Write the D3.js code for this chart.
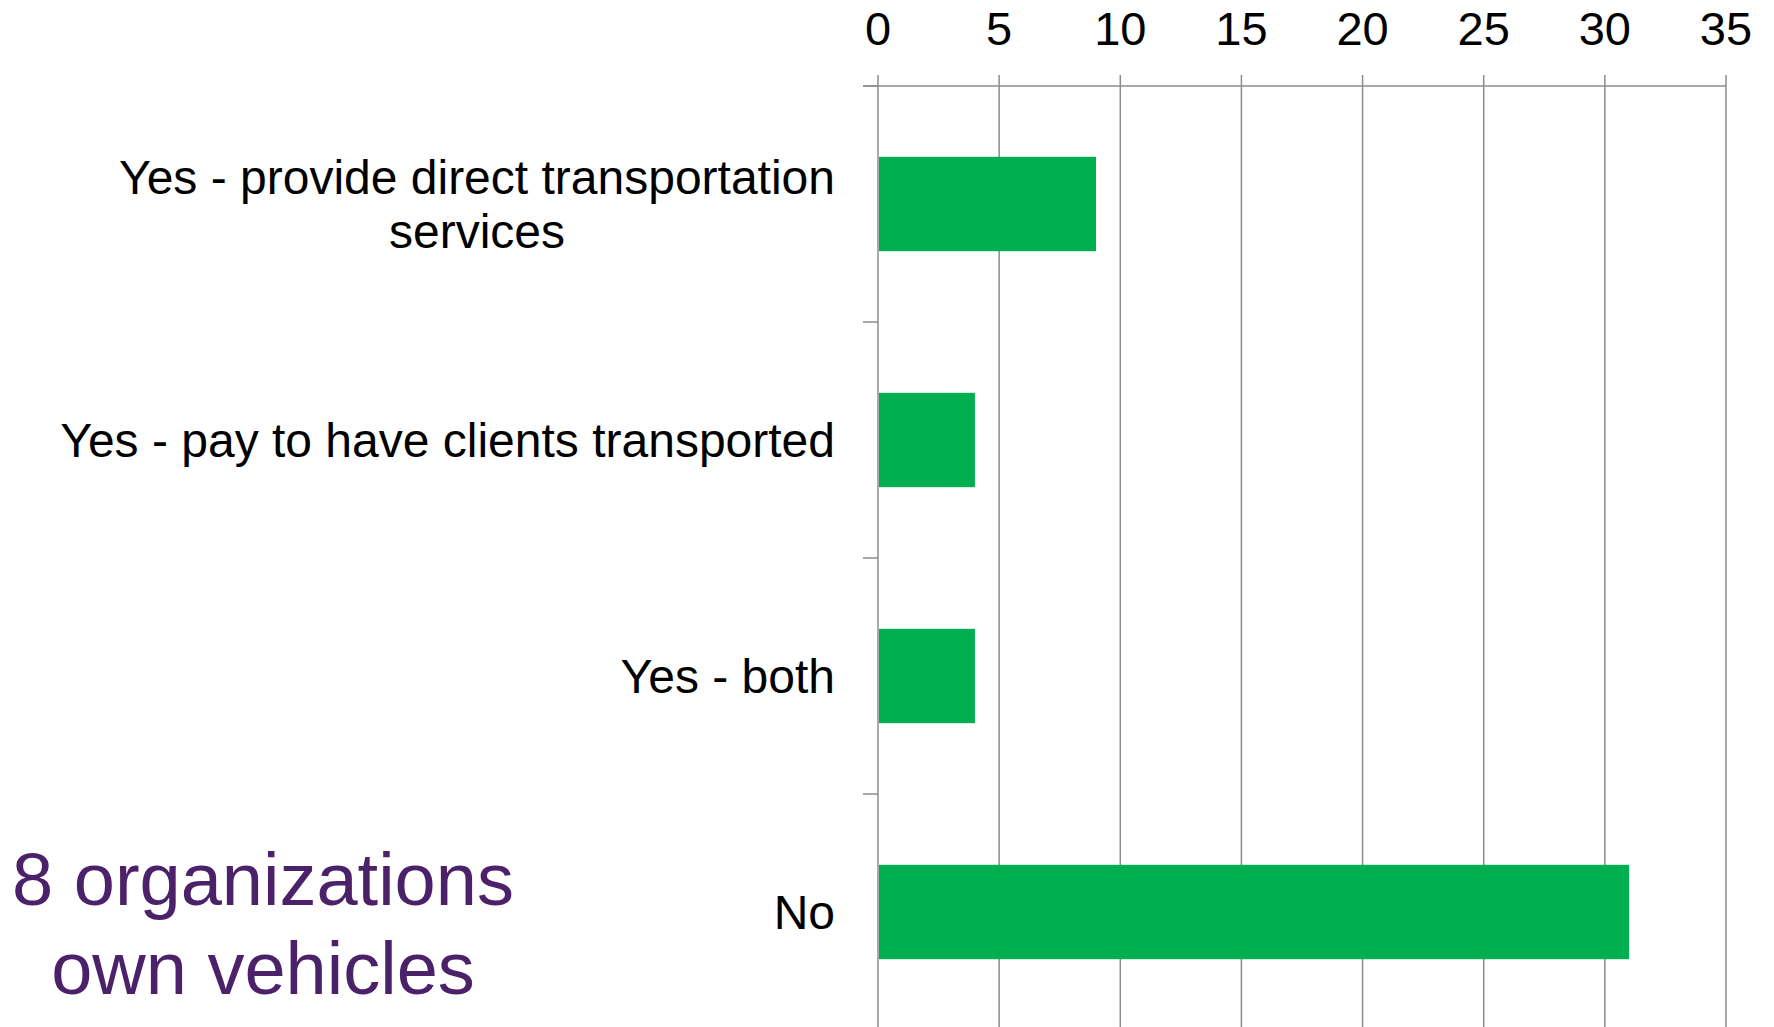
<!DOCTYPE html>
<html>
<head>
<meta charset="utf-8">
<script src="https://cdn.jsdelivr.net/npm/d3@7"></script>
<style>
    body { margin: 0; background: #fff; }
    svg { display: block; font-family: "Liberation Sans", Arial, sans-serif; }
</style>
</head>
<body>
<svg></svg>
<script>
'use strict';

// categories (lines of each label split by "|") and counts
var categories = [
    "Yes - provide direct transportation|services",
    "Yes - pay to have clients transported",
    "Yes - both",
    "No"
];
var counts = [9, 4, 4, 31];
var xTicks = [0, 5, 10, 15, 20, 25, 30, 35];
var noteLines = ["8 organizations", "own vehicles"];

const WIDTH = 1774;
const HEIGHT = 1027;
const margin = {top: 86, left: 878, right: 48};
const PLOT_H = 944;
const GRID = "#8c8c8c";
const BAR = "#00b050";
const LABEL_RIGHT = 835;

var svg = d3.select("svg")
    .attr("width", WIDTH)
    .attr("height", HEIGHT);

var x = d3.scaleLinear()
    .domain([0, 35])
    .range([margin.left, WIDTH - margin.right]);

var y = d3.scaleBand()
    .domain(categories)
    .range([margin.top, margin.top + PLOT_H])
    .paddingInner(0.6)
    .paddingOuter(0.3);

// vertical gridlines (with small tick above the axis)
svg.selectAll(".grid")
    .data(xTicks)
    .enter()
    .append("line")
    .attr("class", "grid")
    .attr("x1", function (d) { return x(d); })
    .attr("x2", function (d) { return x(d); })
    .attr("y1", margin.top - 11)
    .attr("y2", margin.top + PLOT_H)
    .attr("stroke", GRID)
    .attr("stroke-width", 1.5);

// top axis line
svg.append("line")
    .attr("x1", x(0) - 15)
    .attr("x2", x(35))
    .attr("y1", margin.top)
    .attr("y2", margin.top)
    .attr("stroke", GRID)
    .attr("stroke-width", 1.5);

// tick labels on top
svg.selectAll(".xlabel")
    .data(xTicks)
    .enter()
    .append("text")
    .attr("class", "xlabel")
    .attr("x", function (d) { return x(d); })
    .attr("y", 45)
    .attr("text-anchor", "middle")
    .attr("font-size", 47)
    .attr("fill", "#000")
    .text(function (d) { return d; });

// category boundary ticks
var step = y.step();
var bounds = categories.map(function (c) {
    return y(c) - step * y.paddingInner() / 2;
});
svg.selectAll(".ctick")
    .data(bounds)
    .enter()
    .append("line")
    .attr("class", "ctick")
    .attr("x1", x(0) - 15)
    .attr("x2", x(0))
    .attr("y1", function (d) { return d; })
    .attr("y2", function (d) { return d; })
    .attr("stroke", GRID)
    .attr("stroke-width", 1.5);

// bars
svg.selectAll(".bar")
    .data(counts)
    .enter()
    .append("rect")
    .attr("class", "bar")
    .attr("x", x(0) + 1)
    .attr("y", function (d, i) { return y(categories[i]); })
    .attr("width", function (d) { return x(d) - x(0) - 1; })
    .attr("height", y.bandwidth())
    .attr("fill", BAR);

// category labels: block right-aligned, lines centred within the block
var LINE_H = 54;
svg.selectAll(".ylabel")
    .data(categories)
    .enter()
    .append("text")
    .attr("class", "ylabel")
    .attr("text-anchor", "middle")
    .attr("font-size", 48)
    .attr("fill", "#000")
    .each(function (c) {
        var lines = c.split("|");
        var cy = y(c) + y.bandwidth() / 2;
        var first = cy - (lines.length - 1) * LINE_H / 2 + 17;
        var t = d3.select(this);
        var spans = lines.map(function (line, i) {
            return t.append("tspan")
                .attr("y", first + i * LINE_H)
                .text(line);
        });
        var maxW = d3.max(spans, function (s) { return s.node().getComputedTextLength(); });
        spans.forEach(function (s) { s.attr("x", LABEL_RIGHT - maxW / 2); });
    });

// annotation
svg.append("text")
    .attr("text-anchor", "middle")
    .attr("font-size", 74)
    .attr("fill", "#4b2169")
    .selectAll("tspan")
    .data(noteLines)
    .enter()
    .append("tspan")
    .attr("x", 263)
    .attr("y", function (d, i) { return 905 + i * 89; })
    .text(function (d) { return d; });
</script>
</body>
</html>
